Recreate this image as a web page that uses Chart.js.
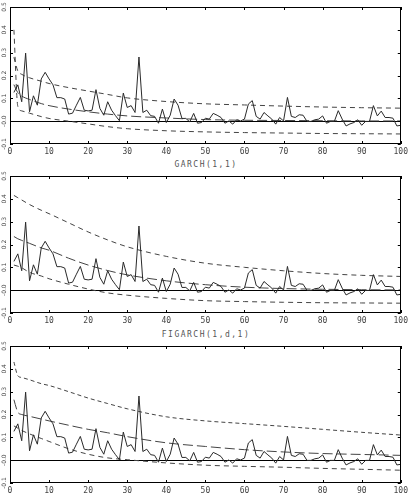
<!DOCTYPE html>
<html>
<head>
<meta charset="utf-8">
<script src="https://cdn.jsdelivr.net/npm/chart.js@4.4.1/dist/chart.umd.min.js"></script>
<style>
html, body { margin: 0; padding: 0; background: #fff; width: 411px; height: 494px; overflow: hidden; position: relative; }
canvas { position: absolute; left: 0; }
.ttl { position: absolute; left: 10px; width: 392px; text-align: center; font: 8px "DejaVu Sans Mono"; letter-spacing: 1.5px; color: #555; }
</style>
</head>
<body>
<canvas id="c1" width="411" height="160" style="top:0px"></canvas>
<div class="ttl" style="top:160px">GARCH(1,1)</div>
<canvas id="c2" width="411" height="160" style="top:169px"></canvas>
<div class="ttl" style="top:330px">FIGARCH(1,d,1)</div>
<canvas id="c3" width="411" height="160" style="top:339px"></canvas>
<script>
// sample autocorrelations, lags 1..100 (same in all three panels)
const acf = [
  0.126, 0.159, 0.085, 0.298, 0.041, 0.111, 0.070, 0.185, 0.214, 0.185,
  0.159, 0.103, 0.103, 0.097, 0.031, 0.035, 0.070, 0.104, 0.048, 0.045,
  0.048, 0.138, 0.056, 0.026, 0.085, 0.048, 0.024, 0.002, 0.123, 0.060,
  0.068, 0.038, 0.281, 0.038, 0.048, 0.024, 0.021, -0.009, 0.053, -0.006,
  0.026, 0.097, 0.070, 0.012, 0.012, -0.003, 0.034, -0.009, -0.006, 0.013,
  0.009, 0.034, 0.026, 0.016, -0.009, 0.001, -0.013, 0.006, 0.001, 0.009,
  0.075, 0.090, 0.021, 0.009, 0.038, 0.023, 0.009, -0.013, 0.016, 0.001,
  0.104, 0.021, 0.016, 0.028, 0.026, -0.001, -0.001, 0.006, 0.009, 0.023,
  -0.009, -0.001, -0.001, 0.046, 0.009, -0.021, -0.012, -0.006, 0.006, -0.018,
  -0.001, -0.001, 0.068, 0.023, 0.044, 0.016, 0.016, 0.013, -0.021, -0.018
];

// lags at which the model curves were read
const bandLags = [1, 2, 3, 5, 8, 10, 15, 20, 25, 30, 40, 50, 60, 70, 80, 90, 100];

const topUpper  = [0.28, 0.22, 0.205, 0.19, 0.175, 0.165, 0.147, 0.132, 0.117, 0.102, 0.086, 0.076, 0.071, 0.066, 0.062, 0.059, 0.057];
const topMiddle = [0.16, 0.125, 0.11, 0.095, 0.077, 0.068, 0.053, 0.041, 0.031, 0.023, 0.014, 0.007, 0.004, 0.003, 0.002, 0.001, 0.001];
const topLower  = [0.40, 0.065, 0.045, 0.035, 0.02, 0.012, 0.0, -0.012, -0.024, -0.033, -0.042, -0.047, -0.05, -0.052, -0.054, -0.055, -0.056];

const garchUpper  = [0.415, 0.405, 0.395, 0.375, 0.35, 0.335, 0.295, 0.255, 0.22, 0.19, 0.148, 0.118, 0.10, 0.085, 0.073, 0.065, 0.06];
const garchMiddle = [0.235, 0.225, 0.218, 0.205, 0.185, 0.175, 0.14, 0.11, 0.086, 0.067, 0.041, 0.024, 0.013, 0.007, 0.004, 0.002, 0.001];
const garchLower  = [0.11, 0.105, 0.098, 0.078, 0.062, 0.05, 0.026, 0.005, -0.012, -0.022, -0.036, -0.046, -0.05, -0.053, -0.055, -0.056, -0.057];

const figarchUpper  = [0.43, 0.37, 0.362, 0.352, 0.335, 0.327, 0.30, 0.272, 0.248, 0.225, 0.19, 0.172, 0.16, 0.148, 0.135, 0.122, 0.11];
const figarchMiddle = [0.265, 0.21, 0.2, 0.192, 0.18, 0.172, 0.153, 0.135, 0.12, 0.103, 0.076, 0.06, 0.046, 0.036, 0.029, 0.025, 0.021];
const figarchLower  = [0.15, 0.14, 0.13, 0.115, 0.095, 0.082, 0.05, 0.026, 0.01, 0.002, -0.012, -0.022, -0.027, -0.031, -0.036, -0.04, -0.044];

// frame round the plot with small inward ticks on all four sides
const framePlugin = {
  id: 'frame',
  afterDraw(chart) {
    const ctx = chart.ctx, a = chart.chartArea, sx = chart.scales.x, sy = chart.scales.y;
    ctx.save();
    ctx.strokeStyle = '#000';
    ctx.lineWidth = 1;
    ctx.strokeRect(Math.round(a.left) + 0.5, Math.round(a.top) + 0.5,
                   Math.round(a.right - a.left) - 1, Math.round(a.bottom - a.top) - 1);
    ctx.beginPath();
    sx.ticks.forEach(t => {
      const p = Math.round(sx.getPixelForValue(t.value)) + 0.5;
      ctx.moveTo(p, a.top); ctx.lineTo(p, a.top + 3);
      ctx.moveTo(p, a.bottom); ctx.lineTo(p, a.bottom - 3);
    });
    sy.ticks.forEach(t => {
      const p = Math.round(sy.getPixelForValue(t.value)) + 0.5;
      ctx.moveTo(a.left, p); ctx.lineTo(a.left + 3, p);
      ctx.moveTo(a.right, p); ctx.lineTo(a.right - 3, p);
    });
    ctx.stroke();
    ctx.restore();
  }
};

function pts(lags, vals) {
  return lags.map((l, i) => ({x: l, y: vals[i]}));
}

function makeChart(id, upper, middle, lower, upperDash) {
  return new Chart(document.getElementById(id), {
    type: 'line',
    data: {
      datasets: [
        {data: acf.map((v, i) => ({x: i + 1, y: v})), borderColor: '#2a2a2a', borderWidth: 1, pointRadius: 0, tension: 0},
        {data: pts(bandLags, upper), borderColor: '#444', borderWidth: 1, borderDash: upperDash, pointRadius: 0, cubicInterpolationMode: 'monotone'},
        {data: pts(bandLags, middle), borderColor: '#444', borderWidth: 1, borderDash: [10, 4], pointRadius: 0, cubicInterpolationMode: 'monotone'},
        {data: pts(bandLags, lower), borderColor: '#444', borderWidth: 1, borderDash: [5, 4], pointRadius: 0, cubicInterpolationMode: 'monotone'}
      ]
    },
    options: {
      responsive: false,
      animation: false,
      layout: {padding: {top: 7, right: 9, left: 0, bottom: 0}},
      plugins: {legend: {display: false}, tooltip: {enabled: false}},
      scales: {
        x: {
          type: 'linear', min: 0, max: 100,
          border: {display: false},
          grid: {display: false, drawTicks: false},
          ticks: {stepSize: 10, padding: 3, color: '#444', maxRotation: 0, font: {family: 'DejaVu Sans Mono', size: 8}},
          afterFit: s => { s.height = 16; }
        },
        y: {
          min: -0.1, max: 0.5,
          border: {display: false},
          grid: {drawTicks: false, lineWidth: 1, color: c => Math.abs(c.tick.value) < 1e-9 ? '#000' : 'rgba(0,0,0,0)'},
          ticks: {stepSize: 0.1, padding: 0, color: '#444', minRotation: 90, maxRotation: 90, crossAlign: 'center',
                  font: {family: 'DejaVu Sans', size: 6}, callback: v => v.toFixed(1)},
          afterFit: s => { s.width = 10; }
        }
      }
    },
    plugins: [framePlugin]
  });
}

makeChart('c1', topUpper, topMiddle, topLower, [5, 4]);
makeChart('c2', garchUpper, garchMiddle, garchLower, [5, 4]);
makeChart('c3', figarchUpper, figarchMiddle, figarchLower, [4, 3]);
</script>
</body>
</html>
